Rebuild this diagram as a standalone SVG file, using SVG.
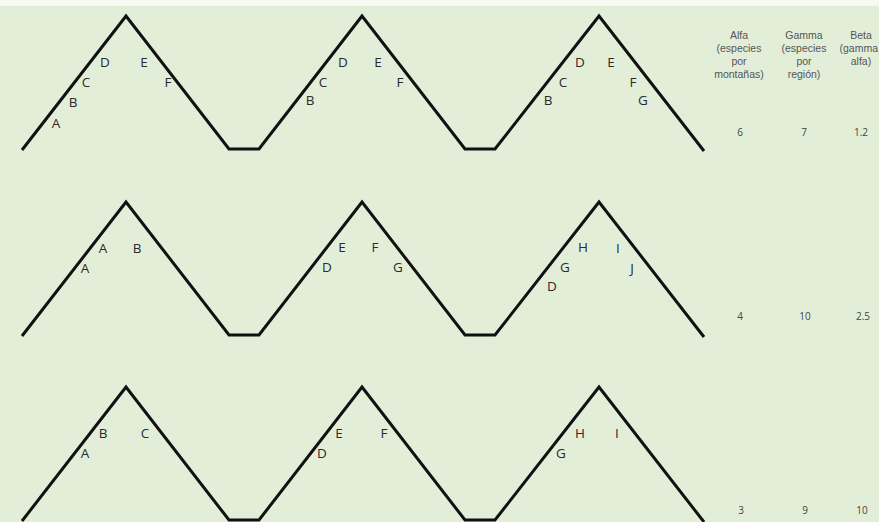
<svg xmlns="http://www.w3.org/2000/svg" width="879" height="522" viewBox="0 0 879 522">
<style>
.bg{fill:#e3eed9}
.m{fill:none;stroke:#111;stroke-width:3;stroke-linejoin:miter}
.l{font-family:"Open Sans","Liberation Sans",sans-serif;font-size:13.5px;fill:#2a2a2a;text-anchor:middle}
.h{font-family:"Liberation Sans","Open Sans",sans-serif;font-size:10.5px;fill:#555;text-anchor:middle}
.n{font-family:"Open Sans","Liberation Sans",sans-serif;font-size:10px;fill:#444;text-anchor:middle}
</style>
<defs>
<path id="range" d="M22,150 L126,16 L229,149 L259,149 L362,16 L465,149 L495,149 L599,16 L704,151"/>
</defs>
<rect class="bg" x="0" y="0" width="879" height="522"/>
<rect x="0" y="0" width="879" height="6" fill="#f7faf3"/>
<g id="connectors">
<use href="#range" class="m"/>
<use href="#range" class="m" transform="translate(0,186)"/>
<use href="#range" class="m" transform="translate(0,371)"/>
</g>
<g id="headers">
<text class="h" x="739" y="39">Alfa</text>
<text class="h" x="739" y="52">(especies</text>
<text class="h" x="739" y="65">por</text>
<text class="h" x="739" y="78">montañas)</text>
<text class="h" x="804" y="39">Gamma</text>
<text class="h" x="804" y="52">(especies</text>
<text class="h" x="804" y="65">por</text>
<text class="h" x="804" y="78">región)</text>
<text class="h" x="861" y="39">Beta</text>
<text class="h" x="878" y="52" style="text-anchor:end">(gamma</text>
<text class="h" x="861" y="65">alfa)</text>
</g>
<g id="row1">
<text class="l" x="56" y="128">A</text>
<text class="l" x="73" y="107">B</text>
<text class="l" x="86" y="87">C</text>
<text class="l" x="105" y="67">D</text>
<text class="l" x="144" y="67">E</text>
<text class="l" x="168" y="87">F</text>
<text class="l" x="310" y="105">B</text>
<text class="l" x="323" y="87">C</text>
<text class="l" x="343" y="67">D</text>
<text class="l" x="378" y="67">E</text>
<text class="l" x="400" y="87">F</text>
<text class="l" x="548" y="105">B</text>
<text class="l" x="563" y="87">C</text>
<text class="l" x="580" y="67">D</text>
<text class="l" x="611" y="67">E</text>
<text class="l" x="633" y="87">F</text>
<text class="l" x="643" y="105">G</text>
<text class="n" x="740" y="136">6</text>
<text class="n" x="804" y="136">7</text>
<text class="n" x="861" y="136">1.2</text>
</g>
<g id="row2">
<text class="l" x="85" y="273">A</text>
<text class="l" x="103" y="253">A</text>
<text class="l" x="137" y="253">B</text>
<text class="l" x="327" y="272">D</text>
<text class="l" x="342" y="252">E</text>
<text class="l" x="375" y="252">F</text>
<text class="l" x="398" y="272">G</text>
<text class="l" x="552" y="291">D</text>
<text class="l" x="565" y="272">G</text>
<text class="l" x="583" y="252">H</text>
<text class="l" x="618" y="253">I</text>
<text class="l" x="632" y="273">J</text>
<text class="n" x="740" y="320">4</text>
<text class="n" x="805" y="320">10</text>
<text class="n" x="863" y="320">2.5</text>
</g>
<g id="row3">
<text class="l" x="85" y="458">A</text>
<text class="l" x="103" y="438">B</text>
<text class="l" x="145" y="438">C</text>
<text class="l" x="322" y="458">D</text>
<text class="l" x="339" y="438">E</text>
<text class="l" x="384" y="438">F</text>
<text class="l" x="561" y="458">G</text>
<text class="l" x="580" y="438">H</text>
<text class="l" x="617" y="438">I</text>
<text class="n" x="741" y="514">3</text>
<text class="n" x="805" y="514">9</text>
<text class="n" x="862" y="514">10</text>
</g>
</svg>
